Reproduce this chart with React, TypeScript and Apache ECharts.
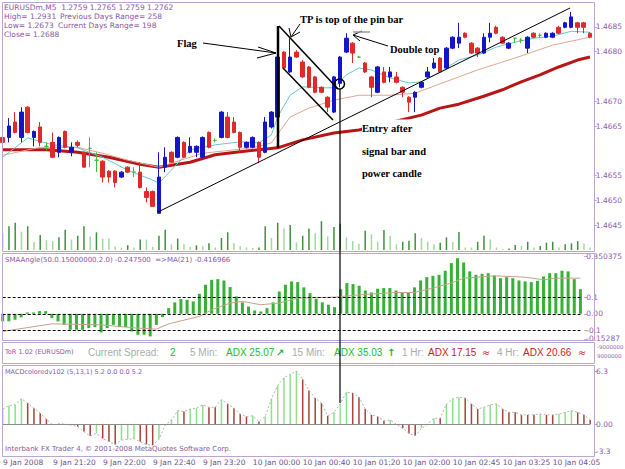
import React, { useEffect, useRef } from "react";
import * as echarts from "echarts";

// ---------- data ----------
const tickLabels = ["9 Jan 2008", "9 Jan 21:20", "9 Jan 22:00", "9 Jan 22:40", "9 Jan 23:20", "10 Jan 00:00", "10 Jan 00:40", "10 Jan 01:20", "10 Jan 02:00", "10 Jan 02:45", "10 Jan 03:25", "10 Jan 04:05"];
const barIndex = Array.from({ length: 95 }, (_, i) => String(i));

// [open, close, low, high]
const candles: number[][] = [
  [1.46627, 1.46617, 1.46615, 1.46629], [1.46627, 1.4665, 1.46617, 1.46666], [1.46658, 1.46637, 1.46635, 1.46678], [1.46627, 1.46678, 1.46617, 1.46688], [1.46688, 1.46637, 1.46635, 1.4669],
  [1.46627, 1.46639, 1.46609, 1.46641], [1.46648, 1.46617, 1.46609, 1.46658], [1.46609, 1.46609, 1.46601, 1.46617], [1.46617, 1.46587, 1.46585, 1.46637], [1.46597, 1.46627, 1.46587, 1.46629],
  [1.46639, 1.46607, 1.46605, 1.46641], [1.46597, 1.46607, 1.46589, 1.46617], [1.46617, 1.46611, 1.46607, 1.46621], [1.46597, 1.46567, 1.46567, 1.46599], [1.46605, 1.46605, 1.46567, 1.46627],
  [1.46581, 1.46581, 1.46557, 1.46597], [1.46579, 1.46547, 1.46536, 1.46581], [1.46559, 1.46547, 1.46536, 1.46561], [1.46559, 1.46536, 1.46526, 1.46561], [1.46547, 1.46557, 1.46545, 1.46559],
  [1.46567, 1.46557, 1.46555, 1.46569], [1.46557, 1.46557, 1.46547, 1.46567], [1.46557, 1.46526, 1.46524, 1.46577], [1.46518, 1.46506, 1.46496, 1.46526], [1.46518, 1.46488, 1.46488, 1.4652],
  [1.46474, 1.46547, 1.46474, 1.46597], [1.46567, 1.46587, 1.46557, 1.46607], [1.46597, 1.46577, 1.46575, 1.46599], [1.46587, 1.46627, 1.46585, 1.46629], [1.46617, 1.46587, 1.46585, 1.46619],
  [1.46597, 1.46609, 1.46595, 1.46627], [1.46597, 1.46609, 1.46587, 1.46611], [1.46587, 1.46627, 1.46585, 1.46629], [1.46637, 1.46607, 1.46605, 1.46639], [1.46621, 1.46621, 1.46617, 1.46625],
  [1.46627, 1.46678, 1.46625, 1.4668], [1.46668, 1.46627, 1.46625, 1.46678], [1.46658, 1.46637, 1.46635, 1.46668], [1.46637, 1.46607, 1.46597, 1.46639], [1.46607, 1.46617, 1.46605, 1.46619],
  [1.46607, 1.46627, 1.46605, 1.46629], [1.46617, 1.46587, 1.46575, 1.46619], [1.46597, 1.46658, 1.46595, 1.46668], [1.46648, 1.46678, 1.46645, 1.4668], [1.46668, 1.46789, 1.46666, 1.46791],
  [1.46799, 1.46767, 1.46765, 1.46801], [1.46759, 1.46789, 1.46757, 1.46827], [1.46799, 1.46789, 1.46787, 1.46803], [1.46779, 1.46749, 1.46747, 1.46783], [1.46769, 1.46728, 1.46726, 1.46771],
  [1.46749, 1.46718, 1.46716, 1.46751], [1.46728, 1.46718, 1.46716, 1.4673], [1.46708, 1.46688, 1.46678, 1.4671], [1.46678, 1.46749, 1.46676, 1.46751], [1.46736, 1.46789, 1.46728, 1.46791],
  [1.46799, 1.46827, 1.46797, 1.46837], [1.46817, 1.46797, 1.46777, 1.46819], [1.46789, 1.46789, 1.46787, 1.46791], [1.46777, 1.46759, 1.46757, 1.46779], [1.46749, 1.46728, 1.46708, 1.46751],
  [1.46718, 1.46769, 1.46716, 1.46771], [1.46759, 1.46738, 1.46736, 1.46769], [1.46749, 1.46759, 1.46738, 1.46769], [1.46749, 1.46738, 1.46736, 1.46759], [1.46728, 1.46718, 1.46708, 1.4673],
  [1.46708, 1.46698, 1.46678, 1.4671], [1.46708, 1.46718, 1.46678, 1.4672], [1.46728, 1.46738, 1.46726, 1.4674], [1.46749, 1.46759, 1.46747, 1.46769], [1.46767, 1.46777, 1.46765, 1.46787],
  [1.46787, 1.46759, 1.46757, 1.46789], [1.46767, 1.46807, 1.46765, 1.46809], [1.46807, 1.46829, 1.46805, 1.46831], [1.46817, 1.46829, 1.46807, 1.46858], [1.46837, 1.46829, 1.46827, 1.46839],
  [1.46817, 1.46797, 1.46795, 1.46819], [1.46807, 1.46797, 1.46789, 1.46809], [1.46797, 1.46829, 1.46795, 1.46837], [1.46829, 1.46837, 1.46819, 1.46858], [1.46849, 1.46837, 1.46835, 1.46852],
  [1.46829, 1.46817, 1.46815, 1.46831], [1.46807, 1.46817, 1.46805, 1.46819], [1.46827, 1.46827, 1.46817, 1.46827], [1.46823, 1.46823, 1.46817, 1.46827], [1.46807, 1.46829, 1.46797, 1.46831],
  [1.46837, 1.46829, 1.46827, 1.46839], [1.46833, 1.46833, 1.46827, 1.46837], [1.46829, 1.46837, 1.46827, 1.46839], [1.46829, 1.46837, 1.46827, 1.46839], [1.46849, 1.46837, 1.46835, 1.46852],
  [1.46849, 1.46858, 1.46847, 1.4686], [1.46849, 1.4687, 1.46847, 1.4688], [1.46858, 1.46849, 1.46837, 1.4686], [1.46858, 1.46849, 1.46837, 1.4686], [1.46837, 1.46829, 1.46827, 1.46839],
];

// moving averages on the price chart: [bar, price]
const maSlow: number[][] = [[0, 1.46602], [7, 1.46602], [12, 1.46597], [17, 1.46587], [22, 1.46573], [25, 1.46567], [30, 1.46577], [34, 1.46592], [38, 1.46598], [41, 1.46602], [44, 1.46606], [48, 1.46622], [53, 1.46636], [57, 1.46642], [67, 1.46672], [70, 1.46686], [73, 1.46694], [77, 1.4671], [80, 1.46723], [83, 1.46739], [86, 1.46753], [89, 1.46769], [92, 1.46783], [94, 1.46789]];
const maMid: number[][] = [[0, 1.46591], [6, 1.46607], [12, 1.46607], [16, 1.46595], [20, 1.46581], [25, 1.46567], [32, 1.46595], [40, 1.46606], [43, 1.46616], [46, 1.46668], [49, 1.46686], [53, 1.46702], [57, 1.46712], [62, 1.46712], [66, 1.46716], [70, 1.46735], [76, 1.46763], [82, 1.46787], [88, 1.46813], [94, 1.46829]];
const maFast: number[][] = [[0, 1.46587], [4, 1.46626], [8, 1.46612], [12, 1.46606], [16, 1.46587], [20, 1.46561], [24, 1.46541], [25, 1.46535], [27, 1.46561], [30, 1.46602], [34, 1.46612], [38, 1.46618], [41, 1.46616], [43, 1.46632], [44, 1.46668], [46, 1.46712], [48, 1.46729], [51, 1.46727], [53, 1.46727], [55, 1.46753], [57, 1.46767], [59, 1.46763], [62, 1.46747], [65, 1.46737], [67, 1.46739], [70, 1.46759], [73, 1.46783], [76, 1.46793], [79, 1.46809], [82, 1.46819], [85, 1.46827], [88, 1.46831], [91, 1.46841], [94, 1.46839]];

const volumes = [53, 75, 86, 58, 75, 25, 47, 31, 28, 40, 64, 33, 45, 75, 43, 56, 36, 36, 11, 7, 15, 8, 33, 33, 10, 45, 64, 18, 36, 18, 10, 15, 12, 21, 8, 38, 56, 21, 12, 8, 6, 8, 75, 38, 86, 68, 79, 24, 45, 68, 53, 91, 43, 73, 83, 40, 28, 20, 61, 50, 26, 63, 45, 18, 26, 29, 53, 38, 26, 18, 23, 40, 25, 57, 8, 8, 26, 45, 33, 8, 3, 5, 16, 13, 26, 8, 13, 23, 26, 8, 18, 21, 28, 20, 8];

const smaAngle = [-0.046, -0.046, -0.036, -0.022, 0.008, 0.008, 0.016, 0.016, -0.026, -0.046, -0.067, -0.097, -0.097, -0.097, -0.087, -0.081, -0.113, -0.087, -0.067, -0.081, -0.081, -0.107, -0.127, -0.127, -0.137, -0.067, -0.02, 0.034, 0.069, 0.089, 0.085, 0.075, 0.121, 0.176, 0.206, 0.21, 0.202, 0.162, 0.105, 0.069, 0.044, 0.02, 0.014, 0.034, 0.069, 0.135, 0.176, 0.196, 0.192, 0.16, 0.125, 0.091, 0.069, 0.055, 0.04, 0.149, 0.186, 0.18, 0.17, 0.141, 0.129, 0.152, 0.156, 0.156, 0.141, 0.129, 0.129, 0.16, 0.202, 0.222, 0.23, 0.236, 0.261, 0.307, 0.337, 0.311, 0.257, 0.236, 0.242, 0.246, 0.232, 0.216, 0.222, 0.216, 0.202, 0.196, 0.192, 0.2, 0.226, 0.246, 0.246, 0.261, 0.257, 0.21, 0.149];
const smaAngleMA: number[][] = [[0, -0.107], [8, -0.061], [16, -0.067], [22, -0.087], [25, -0.093], [27, -0.061], [32, -0.016], [34, 0.024], [37, 0.065], [39, 0.075], [42, 0.055], [45, 0.065], [48, 0.095], [54, 0.101], [58, 0.115], [64, 0.129], [67, 0.129], [70, 0.156], [73, 0.186], [75, 0.216], [80, 0.23], [85, 0.222], [88, 0.206], [90, 0.216], [94, 0.216]];

const macd = [1.8, 2.2, 2.3, 3.0, 2.5, 1.9, 1.3, 0.6, -0.1, 0.05, 0, -0.1, -0.3, -0.9, -1.4, -1.1, -1.7, -2.1, -2.4, -1.9, -1.8, -1.7, -2.1, -2.4, -2.5, -1.8, -0.1, 0.5, 1.6, 1.5, 1.8, 1.9, 2.3, 2.0, 2.0, 2.9, 2.4, 1.9, 1.2, 0.9, 1.0, 0.3, 0.9, 3.0, 4.6, 5.5, 5.9, 6.3, 5.3, 4.0, 3.1, 2.5, 1.0, 1.4, 2.4, 3.8, 3.7, 3.2, 1.8, 1.1, 0.9, 0.4, 0.5, 0, -0.5, -1.1, -1.4, -0.5, 0, 0.7, 0.7, 2.4, 3.0, 3.2, 3.1, 2.4, 1.8, 2.0, 2.3, 2.4, 1.8, 1.4, 1.4, 1.1, 1.1, 1.1, 1.2, 1.1, 1.1, 1.2, 1.4, 1.6, 1.4, 1.1, 0.5];

const priceTicks = [1.4645, 1.465, 1.4655, 1.4665, 1.467, 1.468, 1.4685];
const smaTicks = [0.350375, 0.1, 0, -0.1, -0.15287];
const macdTicks = [6.3, 0, -3.3];

// ---------- styles ----------
const LAV = "#bca6d0";
const AXC = "#8e5cae";
const PURPLE = "#8a58a8";
const UP = "#1515c8";
const DOWN = "#e02a2a";
const DOJI = "#3cc03c";
const GRID_L = 2.7;
const GRID_R = 34.8;

export default function App() {
  const ref = useRef<HTMLDivElement>(null);
  useEffect(() => {
    if (!ref.current) return;
    const chart = echarts.init(ref.current, undefined, { renderer: "svg" });

    const candleData = candles.map(([o, c, l, h]) =>
      o === c
        ? { value: [o, c, l, h], itemStyle: { color: DOJI, color0: DOJI, borderColor: DOJI, borderColor0: DOJI } }
        : [o, c, l, h]
    );
    const volData = volumes.map((v, i) => ({
      value: v,
      itemStyle: { color: i > 0 && v > volumes[i - 1] ? "#3f8f3f" : "#a2d9a2" },
    }));
    const macdData = macd.map((v, i) => ({
      value: v,
      itemStyle: { color: i === 0 || v > macd[i - 1] ? "#8ee08e" : "#a5423a" },
    }));

    const xBase = (gridIndex: number, showLabels: boolean) => ({
      type: "category",
      gridIndex,
      data: barIndex,
      boundaryGap: false,
      axisLine: { show: false },
      axisTick: { show: false },
      splitLine: { show: false },
      axisLabel: showLabels
        ? {
            show: true,
            interval: 7,
            align: "left",
            margin: 6,
            fontSize: 7.5,
            fontFamily: "DejaVu Sans",
            color: "#6e5290",
            formatter: (_v: string, idx: number) => tickLabels[Math.round(idx / 8)] ?? "",
          }
        : { show: false },
    });

    const yRight = (gridIndex: number, min: number, max: number, ticks: number[], fmt: (v: number) => string) => ({
      type: "value",
      gridIndex,
      position: "right",
      min,
      max,
      offset: 3.8,
      splitLine: { show: false },
      axisLine: { show: false },
      axisTick: { show: true, customValues: ticks, length: 3, lineStyle: { color: LAV } },
      axisLabel: {
        show: true,
        customValues: ticks,
        showMinLabel: true,
        showMaxLabel: true,
        margin: 2,
        fontSize: 7.5,
        fontFamily: "DejaVu Sans",
        color: AXC,
        formatter: fmt,
      },
    });

    const txt = (text: string, x: number, y: number, font: string, fill: string, extra: any = {}) => ({
      type: "text",
      z: 100,
      style: { text, x, y, font, fill, textVerticalAlign: "middle", verticalAlign: "middle", ...extra },
    });
    const ln = (x1: number, y1: number, x2: number, y2: number, w = 1, color = "#000") => ({
      type: "line",
      z: 100,
      shape: { x1, y1, x2, y2 },
      style: { stroke: color, lineWidth: w },
    });
    const frame = (x: number, y: number, w: number, h: number) => ({
      type: "rect",
      z: 90,
      shape: { x: x + 0.5, y: y + 0.5, width: w, height: h },
      style: { fill: "none", stroke: LAV, lineWidth: 1 },
    });

    const serif = 'bold 10.5px "Liberation Serif"';
    const small = '7.5px "DejaVu Sans"';
    const tor = '10px "Liberation Sans"';
    const fmt0 = (v: number) => (v === 0 ? "0.00" : String(v));

    const option: any = {
      animation: false,
      backgroundColor: "#ffffff",
      grid: [
        { left: GRID_L, right: GRID_R, top: 2, height: 248 },
        { left: GRID_L, right: GRID_R, top: 212, height: 38 },
        { left: GRID_L, right: GRID_R, top: 256, height: 83 },
        { left: GRID_L, right: GRID_R, top: 371, height: 81 },
        { left: GRID_L, right: GRID_R, top: 371, height: 81 },
      ],
      xAxis: [xBase(0, false), xBase(1, false), xBase(2, false), xBase(3, false), xBase(4, true)],
      yAxis: [
        yRight(0, 1.464, 1.469, priceTicks, (v) => v.toFixed(4)),
        { type: "value", gridIndex: 1, min: 0, max: 120, show: false },
        yRight(2, -0.15288, 0.350376, smaTicks, fmt0),
        yRight(3, -3.3001, 6.3001, macdTicks, fmt0),
        { type: "value", gridIndex: 4, min: 0, max: 1, show: false },
      ],
      series: [
        { type: "bar", xAxisIndex: 1, yAxisIndex: 1, data: volData, barWidth: 1.5, z: 1 },
        { type: "line", xAxisIndex: 0, yAxisIndex: 0, data: maSlow, symbol: "none", lineStyle: { color: "#b81616", width: 3 }, z: 2 },
        { type: "line", xAxisIndex: 0, yAxisIndex: 0, data: maMid, symbol: "none", lineStyle: { color: "#e2a595", width: 1 }, z: 2 },
        { type: "line", xAxisIndex: 0, yAxisIndex: 0, data: maFast, symbol: "none", lineStyle: { color: "#66c8c8", width: 1 }, z: 2 },
        {
          type: "candlestick",
          xAxisIndex: 0,
          yAxisIndex: 0,
          data: candleData,
          barWidth: 4,
          clip: false,
          itemStyle: { color: UP, color0: DOWN, borderColor: UP, borderColor0: DOWN, borderWidth: 1 },
          z: 3,
        },
        {
          type: "bar",
          xAxisIndex: 2,
          yAxisIndex: 2,
          data: smaAngle,
          barWidth: 3,
          itemStyle: { color: "#36b036" },
          markLine: {
            silent: true,
            symbol: "none",
            label: { show: false },
            lineStyle: { color: "#000", type: [3, 2], width: 1 },
            data: [{ yAxis: 0.1 }, { yAxis: 0 }, { yAxis: -0.1 }],
          },
        },
        { type: "line", xAxisIndex: 2, yAxisIndex: 2, data: smaAngleMA, symbol: "none", lineStyle: { color: "#c9a08c", width: 1 }, z: 4 },
        {
          type: "bar",
          xAxisIndex: 3,
          yAxisIndex: 3,
          data: macdData,
          barWidth: 1.5,
          markLine: {
            silent: true,
            symbol: "none",
            label: { show: false },
            lineStyle: { color: "#8c8c8c", type: "solid", width: 1 },
            data: [{ yAxis: 0 }],
          },
        },
        { type: "line", xAxisIndex: 3, yAxisIndex: 3, data: macd, symbol: "none", lineStyle: { color: "#b4b4b4", type: [2, 2], width: 1 }, z: 4 },
      ],
      graphic: [
        frame(2, 2, 592, 249),
        frame(2, 253, 592, 87),
        frame(2, 342, 592, 21),
        frame(2, 365, 592, 91),
        // header
        txt("EURUSDm,M5  1.2759 1.2765 1.2759 1.2762", 4, 7, small, PURPLE),
        txt("High= 1.2931", 4, 16, small, PURPLE),
        txt("Previous Days Range= 258", 60, 16, small, PURPLE),
        txt("Low= 1.2673", 4, 25, small, PURPLE),
        txt("Current Days Range= 198", 58, 25, small, PURPLE),
        txt("Close= 1.2688", 4, 34, small, PURPLE),
        // indicator titles
        txt("SMAAngle(50.0.15000000.2.0) -0.247500  =>MA(21) -0.416966", 5, 260, '7px "DejaVu Sans"', PURPLE),
        txt("ToR 1.02 (EURUSDm)", 5, 352, '6.5px "DejaVu Sans"', PURPLE),
        txt("Current Spread:", 88, 352, tor, "#ababab"),
        txt("2", 170, 352, tor, "#22bb22"),
        txt("5 Min:", 190, 352, tor, "#ababab"),
        txt("ADX 25.07", 226, 352, tor, "#22bb22"),
        txt("\u2197", 276, 352, 'bold 10px "DejaVu Sans"', "#22bb22"),
        txt("15 Min:", 292, 352, tor, "#ababab"),
        txt("ADX 35.03", 334, 352, tor, "#22bb22"),
        txt("\u2191", 387, 352, 'bold 10px "DejaVu Sans"', "#22bb22"),
        txt("1 Hr:", 402, 352, tor, "#ababab"),
        txt("ADX 17.15", 428, 352, tor, "#cc2222"),
        txt("\u2248", 482, 352, '10px "DejaVu Sans"', "#cc2222"),
        txt("4 Hr:", 497, 352, tor, "#ababab"),
        txt("ADX 20.66", 523, 352, tor, "#cc2222"),
        txt("\u2248", 578, 352, '10px "DejaVu Sans"', "#cc2222"),
        txt("-9000000", 597, 347, '5.5px "DejaVu Sans"', AXC),
        txt("9000000", 597, 356, '5.5px "DejaVu Sans"', AXC),
        txt("MACDcoloredv102 (5,13,1) 5.2 0.0 0.0 5.2", 5, 372, '6.5px "DejaVu Sans"', PURPLE),
        txt("Interbank FX Trader 4, \u00a9 2001-2008 MetaQuotes Software Corp.", 5, 449, '7px "DejaVu Sans"', PURPLE),
        // annotations
        ln(158, 212, 570, 8, 1),
        ln(278, 26, 278, 148, 2.5),
        ln(279, 26, 338, 89, 1.5),
        ln(283, 68, 333, 120, 1.5),
        ln(203, 43, 276, 53, 1),
        ln(276, 53, 258, 47, 1),
        ln(276, 53, 257, 58, 1),
        ln(300, 24, 291, 37, 1),
        ln(291, 37, 289, 28, 1),
        ln(291, 37, 300, 32, 1),
        ln(388, 46, 353, 35, 1),
        ln(353, 35, 362, 31, 1),
        ln(353, 35, 360, 41, 1),
        ln(353, 32, 370, 32, 1.5, "#9a9a9a"),
        { type: "circle", z: 100, shape: { cx: 339.5, cy: 84, r: 5 }, style: { fill: "none", stroke: "#000", lineWidth: 1.5 } },
        ln(340, 89, 340, 403, 1.2),
        txt("Flag", 177, 43, serif, "#000"),
        txt("TP is top of the pin bar", 300, 19, serif, "#000"),
        txt("Double top", 390, 49, serif, "#000"),
        txt("Entry after", 362, 128, serif, "#000", { backgroundColor: "#fff", padding: [3, 8, 3, 0] }),
        txt("signal bar and", 362, 151, serif, "#000"),
        txt("power candle", 362, 173, serif, "#000"),
      ],
    };

    chart.setOption(option);
    return () => chart.dispose();
  }, []);

  return <div ref={ref} style={{ position: "fixed", left: 0, top: 0, width: 625, height: 469, background: "#fff" }} />;
}
